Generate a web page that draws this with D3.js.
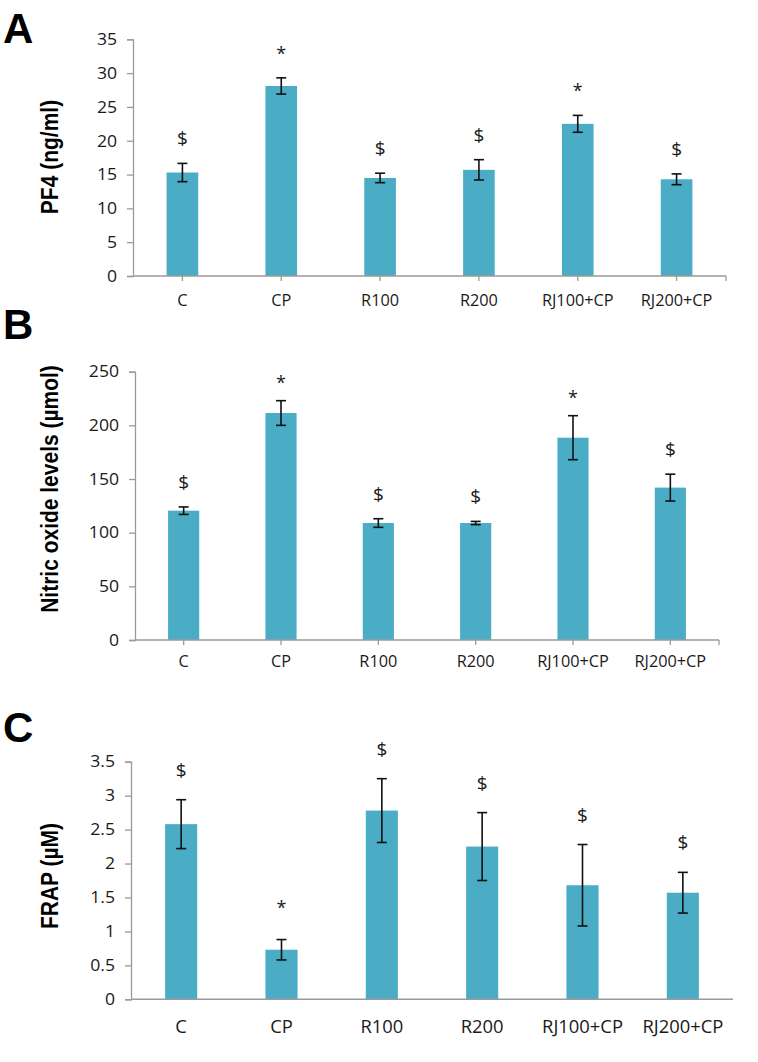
<!DOCTYPE html>
<html>
<head>
<meta charset="utf-8">
<script src="https://cdn.jsdelivr.net/npm/d3@7"></script>
<style>
  body { margin: 0; background: #fff; }
  svg text { font-family: "Open Sans", "Noto Sans", sans-serif; fill: #1a1a1a; }
  svg text.ytitle, svg text.letter { font-family: "Liberation Sans", Arial, sans-serif; font-weight: bold; fill: #000; }
</style>
</head>
<body>
<svg id="chart" width="758" height="1062"></svg>
<script>
const groups = ["C", "CP", "R100", "R200", "RJ100+CP", "RJ200+CP"];

// Panel A: PF4
const pf4Mean = [15.3, 28.1, 14.5, 15.7, 22.5, 14.3];
const pf4Err  = [1.35, 1.2, 0.7, 1.5, 1.25, 0.8];
const pf4Sig  = ["$", "*", "$", "$", "*", "$"];

// Panel B: nitric oxide
const noMean = [120.5, 211.5, 109, 109, 188.5, 142];
const noErr  = [3.5, 11.5, 4, 1.5, 20.5, 12.5];
const noSig  = ["$", "*", "$", "$", "*", "$"];

// Panel C: FRAP
const frapMean = [2.58, 0.73, 2.78, 2.25, 1.68, 1.57];
const frapErr  = [0.36, 0.15, 0.47, 0.5, 0.6, 0.3];
const frapSig  = ["$", "*", "$", "$", "$", "$"];

const barColor = "#4bacc6";
const axisColor = "#9a9a9a";

const svg = d3.select("#chart");

const panels = [
    {letter: "A", title: "PF4 (ng/ml)", mean: pf4Mean, err: pf4Err, sig: pf4Sig,
     max: 35, step: 5, x0: 133, x1: 726, yTop: 39.3, yBot: 276, xTicks: true,
     catSize: 15.5, catBase: 306, dollarGap: 18, starGap: 18,
     titleY: 157, letterY: 43, fmt: d3.format("d")},
    {letter: "B", title: "Nitric oxide levels (\u00b5mol)", mean: noMean, err: noErr, sig: noSig,
     max: 250, step: 50, x0: 135, x1: 719, yTop: 371.7, yBot: 640, xTicks: true,
     catSize: 15.5, catBase: 667, dollarGap: 18, starGap: 12,
     titleY: 489, letterY: 338.5, fmt: d3.format("d")},
    {letter: "C", title: "FRAP (\u00b5M)", mean: frapMean, err: frapErr, sig: frapSig,
     max: 3.5, step: 0.5, x0: 131, x1: 733, yTop: 761.7, yBot: 999.3, xTicks: false,
     catSize: 17.5, catBase: 1033, dollarGap: 23, starGap: 26,
     titleY: 876, letterY: 742, fmt: v => String(v)}
];

panels.forEach(p => {
    const g = svg.append("g");

    const x = d3.scaleBand().domain(groups).range([p.x0, p.x1]);
    const y = d3.scaleLinear().domain([0, p.max]).range([p.yBot, p.yTop]);
    const bw = x.bandwidth() * 0.32;
    const cx = d => x(d) + x.bandwidth() / 2;

    // y axis line and ticks, labels drawn separately so they can be widened
    const ticks = d3.range(0, p.max + p.step / 2, p.step);
    const yAxis = d3.axisLeft(y).tickValues(ticks).tickSize(6).tickFormat("");
    const ya = g.append("g").attr("transform", `translate(${p.x0},0)`).call(yAxis);
    ya.select(".domain").attr("stroke", axisColor).attr("stroke-width", 1.3);
    ya.selectAll(".tick line").attr("stroke", axisColor).attr("stroke-width", 1.3);

    g.selectAll("text.ytick").data(ticks).enter().append("text")
        .attr("class", "ytick")
        .attr("transform", d => `translate(${p.x0 - 16},${y(d)}) scale(1.1,1)`)
        .attr("dy", "0.36em")
        .attr("text-anchor", "end")
        .attr("font-size", 16)
        .text(p.fmt);

    // bars
    g.selectAll("rect.bar").data(groups).enter().append("rect")
        .attr("class", "bar")
        .attr("x", d => cx(d) - bw / 2)
        .attr("width", bw)
        .attr("y", (d, i) => y(p.mean[i]))
        .attr("height", (d, i) => y(0) - y(p.mean[i]))
        .attr("fill", barColor);

    // x axis
    g.append("line")
        .attr("x1", p.x0).attr("x2", p.x1)
        .attr("y1", y(0)).attr("y2", y(0))
        .attr("stroke", axisColor).attr("stroke-width", 1.5);
    if (p.xTicks) {
        const tx = groups.map(cx).concat([p.x1]);
        g.selectAll("line.xt").data(tx).enter().append("line")
            .attr("x1", d => d).attr("x2", d => d)
            .attr("y1", y(0)).attr("y2", y(0) + 5)
            .attr("stroke", axisColor).attr("stroke-width", 1.3);
    }

    g.selectAll("text.cat").data(groups).enter().append("text")
        .attr("transform", d => `translate(${cx(d)},${p.catBase}) scale(1.05,1)`)
        .attr("text-anchor", "middle")
        .attr("font-size", p.catSize)
        .text(d => d);

    // error bars
    const eb = g.selectAll("g.err").data(groups).enter().append("g")
        .attr("stroke", "#111").attr("stroke-width", 1.6);
    eb.append("line")
        .attr("x1", cx).attr("x2", cx)
        .attr("y1", (d, i) => y(p.mean[i] + p.err[i]))
        .attr("y2", (d, i) => y(p.mean[i] - p.err[i]));
    [1, -1].forEach(s => {
        eb.append("line")
            .attr("x1", d => cx(d) - 5).attr("x2", d => cx(d) + 5)
            .attr("y1", (d, i) => y(p.mean[i] + s * p.err[i]))
            .attr("y2", (d, i) => y(p.mean[i] + s * p.err[i]));
    });

    // significance marks
    g.selectAll("text.sig").data(groups).enter().append("text")
        .attr("x", cx)
        .attr("y", (d, i) => y(p.mean[i] + p.err[i]) - (p.sig[i] === "*" ? p.starGap : p.dollarGap))
        .attr("text-anchor", "middle")
        .attr("font-size", (d, i) => p.sig[i] === "*" ? 18 : 19)
        .text((d, i) => p.sig[i]);

    // y title
    g.append("text")
        .attr("class", "ytitle")
        .attr("transform", `translate(58,${p.titleY}) scale(1.1,1) rotate(-90)`)
        .attr("text-anchor", "middle")
        .attr("font-size", 21)
        .text(p.title);

    // panel letter
    g.append("text")
        .attr("class", "letter")
        .attr("x", 3).attr("y", p.letterY)
        .attr("font-size", 42)
        .text(p.letter);
});
</script>
</body>
</html>
